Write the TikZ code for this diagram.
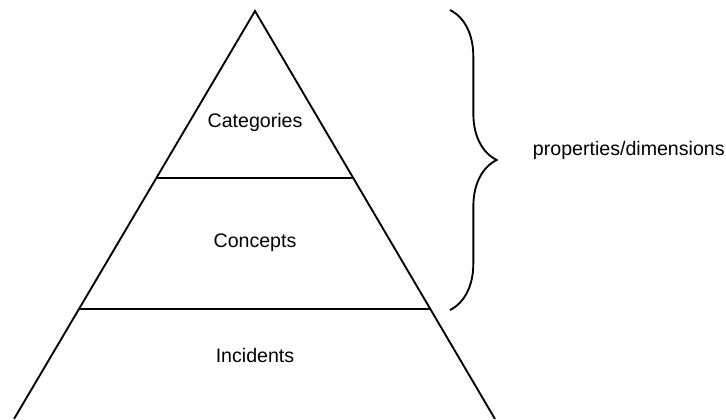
\documentclass[tikz,border=0pt]{standalone}
\usepackage{fontspec}
\setmainfont{Liberation Sans}
\usetikzlibrary{calc,decorations.pathreplacing}

\begin{document}
\begin{tikzpicture}[x=0.75pt, y=-0.75pt, line width=1.4pt]
        \tikzset{
                label/.style  = {font=\fontsize{14.7}{17}\selectfont, inner sep=0pt},
                layer/.style  = {draw, line width=1.4pt},
                curly/.style  = {draw, decorate, decoration={brace, amplitude=35pt},
                                line width=1.4pt}
        }
        \useasboundingbox (0,0) rectangle (726,419);
        % corners of the pyramid
        \coordinate (apex) at (255,11);
        \coordinate (bl) at (14,419);
        \coordinate (br) at (495,419);
        \draw (bl) -- (apex) -- (br);

        % the two dividing lines
        \coordinate (l1) at ($(apex)!0.409!(bl)$);
        \coordinate (r1) at ($(apex)!0.409!(br)$);
        \coordinate (l2) at ($(apex)!0.730!(bl)$);
        \coordinate (r2) at ($(apex)!0.730!(br)$);
        \draw[layer] (l1) -- (r1);
        \draw[layer] (l2) -- (r2);

        % labels of the layers
        \node[label] (cat) at (255,122) {Categories};
        \node[label] (con) at (255,243) {Concepts};
        \node[label] (inc) at (255,355) {Incidents};

        % brace over the upper two layers
        \coordinate (btop) at (450,10);
        \coordinate (bbot) at (450,310);
        \draw[curly] (btop) -- (bbot);
        \node[label, anchor=west] (dims) at (532,150) {properties/dimensions};
\end{tikzpicture}
\end{document}
